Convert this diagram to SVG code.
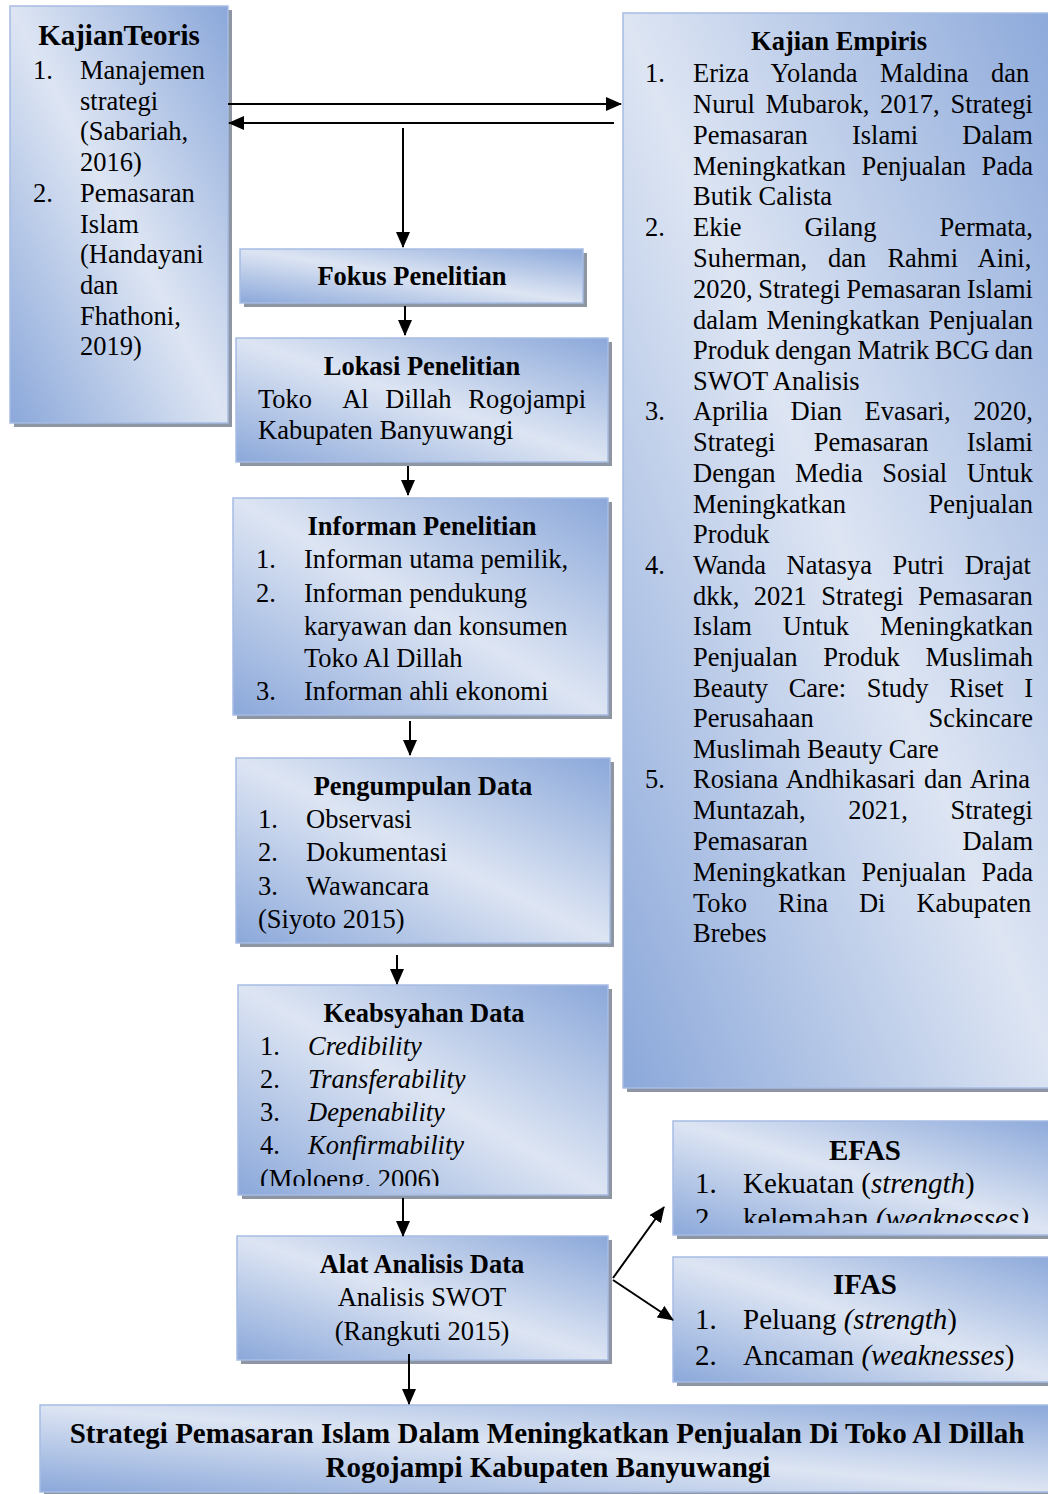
<svg xmlns="http://www.w3.org/2000/svg" width="1048" height="1494" viewBox="0 0 1048 1494">
<defs>
<linearGradient id="g" x1="1" y1="0" x2="0" y2="1">
<stop offset="0" stop-color="#8ba8da"/>
<stop offset="0.5" stop-color="#dde5f3"/>
<stop offset="1" stop-color="#8ba8da"/>
</linearGradient>
<marker id="ah" markerWidth="16" markerHeight="14" refX="15" refY="7" orient="auto" markerUnits="userSpaceOnUse">
<path d="M0,0 L16,7 L0,14 z" fill="#000"/>
</marker>
<clipPath id="cK"><rect x="238" y="985" width="370" height="201"/></clipPath>
<clipPath id="cE"><rect x="673" y="1121" width="390" height="102"/></clipPath>
</defs>
<style>
.box{fill:url(#g);stroke:#a7bce4;stroke-width:1.5}
.sh{fill:#8e96a4}
text{font-family:"Liberation Serif","Times New Roman",serif;font-size:26.5px;fill:#000}
.b{font-weight:bold}
.c{text-anchor:middle}
.e{text-anchor:end}
.i{font-style:italic}
.big{font-size:29px}
.con{stroke:#000;stroke-width:2;fill:none;marker-end:url(#ah)}
</style>
<rect width="1048" height="1494" fill="#fff"/>

<g id="kajian-teoris">
<rect class="sh" x="14" y="10" width="218" height="417"/>
<rect class="box" x="10" y="6" width="218" height="417"/>
<text class="b c big" x="119" y="45">KajianTeoris</text>
<text x="33" y="79">1.</text>
<text x="80" y="79">Manajemen</text>
<text x="80" y="110">strategi</text>
<text x="80" y="140">(Sabariah,</text>
<text x="80" y="171">2016)</text>
<text x="33" y="202">2.</text>
<text x="80" y="202">Pemasaran</text>
<text x="80" y="233">Islam</text>
<text x="80" y="263">(Handayani</text>
<text x="80" y="294">dan</text>
<text x="80" y="325">Fhathoni,</text>
<text x="80" y="355">2019)</text>
</g>

<g id="kajian-empiris">
<rect class="sh" x="627" y="17" width="440" height="1075"/>
<rect class="box" x="623" y="13" width="440" height="1075"/>
<text class="b c" x="839" y="50">Kajian Empiris</text>
<text x="645" y="82">1.</text>
<text x="693" y="82" style="word-spacing:15.9px">Eriza Yolanda Maldina dan</text>
<text x="693" y="113" style="word-spacing:4.1px">Nurul Mubarok, 2017, Strategi</text>
<text x="693" y="144" style="word-spacing:37.5px">Pemasaran Islami Dalam</text>
<text x="693" y="175" style="word-spacing:8.8px">Meningkatkan Penjualan Pada</text>
<text x="693" y="205">Butik Calista</text>
<text x="645" y="236">2.</text>
<text x="693" y="236" style="word-spacing:56.3px">Ekie Gilang Permata,</text>
<text x="693" y="267" style="word-spacing:14.4px">Suherman, dan Rahmi Aini,</text>
<text x="693" y="298" style="word-spacing:-1px">2020, Strategi Pemasaran Islami</text>
<text x="693" y="329" style="word-spacing:2.2px">dalam Meningkatkan Penjualan</text>
<text x="693" y="359" style="word-spacing:-1.1px">Produk dengan Matrik BCG dan</text>
<text x="693" y="390">SWOT Analisis</text>
<text x="645" y="420">3.</text>
<text x="693" y="420" style="word-spacing:15.9px">Aprilia Dian Evasari, 2020,</text>
<text x="693" y="451" style="word-spacing:31.6px">Strategi Pemasaran Islami</text>
<text x="693" y="482" style="word-spacing:13px">Dengan Media Sosial Untuk</text>
<text x="693" y="513" style="word-spacing:75.8px">Meningkatkan Penjualan</text>
<text x="693" y="543">Produk</text>
<text x="645" y="574">4.</text>
<text x="693" y="574" style="word-spacing:14px">Wanda Natasya Putri Drajat</text>
<text x="693" y="605" style="word-spacing:7.8px">dkk, 2021 Strategi Pemasaran</text>
<text x="693" y="635" style="word-spacing:24.3px">Islam Untuk Meningkatkan</text>
<text x="693" y="666" style="word-spacing:19.1px">Penjualan Produk Muslimah</text>
<text x="693" y="697" style="word-spacing:14px">Beauty Care: Study Riset I</text>
<text x="693" y="727" style="word-spacing:108.2px">Perusahaan Sckincare</text>
<text x="693" y="758">Muslimah Beauty Care</text>
<text x="645" y="788">5.</text>
<text x="693" y="788" style="word-spacing:2.2px">Rosiana Andhikasari dan Arina</text>
<text x="693" y="819" style="word-spacing:36px">Muntazah, 2021, Strategi</text>
<text x="693" y="850" style="word-spacing:148px">Pemasaran Dalam</text>
<text x="693" y="881" style="word-spacing:8.8px">Meningkatkan Penjualan Pada</text>
<text x="693" y="912" style="word-spacing:24.3px">Toko Rina Di Kabupaten</text>
<text x="693" y="942">Brebes</text>
</g>

<g id="fokus-penelitian">
<rect class="sh" x="244" y="253" width="343" height="54"/>
<rect class="box" x="240" y="249" width="343" height="54"/>
<text class="b c" x="412" y="285">Fokus Penelitian</text>
</g>

<g id="lokasi-penelitian">
<rect class="sh" x="240" y="342" width="372" height="124"/>
<rect class="box" x="236" y="338" width="372" height="124"/>
<text class="b c" x="422" y="375">Lokasi Penelitian</text>
<text x="258" y="408">Toko</text>
<text class="e" x="586" y="408" style="word-spacing:10px">Al Dillah Rogojampi</text>
<text x="258" y="439">Kabupaten Banyuwangi</text>
</g>

<g id="informan-penelitian">
<rect class="sh" x="237" y="502" width="375" height="217"/>
<rect class="box" x="233" y="498" width="375" height="217"/>
<text class="b c" x="422" y="535">Informan Penelitian</text>
<text x="256" y="568">1.</text>
<text x="304" y="568">Informan utama pemilik,</text>
<text x="256" y="602">2.</text>
<text x="304" y="602">Informan pendukung</text>
<text x="304" y="635">karyawan dan konsumen</text>
<text x="304" y="667">Toko Al Dillah</text>
<text x="256" y="700">3.</text>
<text x="304" y="700">Informan ahli ekonomi</text>
</g>

<g id="pengumpulan-data">
<rect class="sh" x="240" y="762" width="374" height="185"/>
<rect class="box" x="236" y="758" width="374" height="185"/>
<text class="b c" x="423" y="795">Pengumpulan Data</text>
<text x="258" y="828">1.</text>
<text x="306" y="828">Observasi</text>
<text x="258" y="861">2.</text>
<text x="306" y="861">Dokumentasi</text>
<text x="258" y="895">3.</text>
<text x="306" y="895">Wawancara</text>
<text x="258" y="928">(Siyoto 2015)</text>
</g>

<g id="keabsyahan-data">
<rect class="sh" x="242" y="989" width="370" height="210"/>
<rect class="box" x="238" y="985" width="370" height="210"/>
<g clip-path="url(#cK)">
<text class="b c" x="424" y="1022">Keabsyahan Data</text>
<text x="260" y="1055">1.</text>
<text class="i" x="308" y="1055">Credibility</text>
<text x="260" y="1088">2.</text>
<text class="i" x="308" y="1088">Transferability</text>
<text x="260" y="1121">3.</text>
<text class="i" x="308" y="1121">Depenability</text>
<text x="260" y="1154">4.</text>
<text class="i" x="308" y="1154">Konfirmability</text>
<text x="260" y="1188">(Moloeng. 2006)</text>
</g>
</g>

<g id="alat-analisis-data">
<rect class="sh" x="241" y="1240" width="371" height="124"/>
<rect class="box" x="237" y="1236" width="371" height="124"/>
<text class="b c" x="422" y="1273">Alat Analisis Data</text>
<text class="c" x="422" y="1306">Analisis SWOT</text>
<text class="c" x="422" y="1340">(Rangkuti 2015)</text>
</g>

<g id="efas">
<rect class="sh" x="677" y="1125" width="390" height="114"/>
<rect class="box" x="673" y="1121" width="390" height="114"/>
<g clip-path="url(#cE)">
<text class="b c big" x="865" y="1160">EFAS</text>
<text class="big" x="695" y="1193">1.</text>
<text class="big" x="743" y="1193">Kekuatan (<tspan class="i">strength</tspan>)</text>
<text class="big" x="695" y="1228">2.</text>
<text class="big" x="743" y="1228">kelemahan <tspan class="i">(weaknesses)</tspan></text>
</g>
</g>

<g id="ifas">
<rect class="sh" x="677" y="1261" width="390" height="125"/>
<rect class="box" x="673" y="1257" width="390" height="125"/>
<text class="b c big" x="865" y="1294">IFAS</text>
<text class="big" x="695" y="1329">1.</text>
<text class="big" x="743" y="1329">Peluang <tspan class="i">(strength</tspan>)</text>
<text class="big" x="695" y="1365">2.</text>
<text class="big" x="743" y="1365">Ancaman <tspan class="i">(weaknesses</tspan>)</text>
</g>

<g id="strategi-hasil">
<rect class="sh" x="44" y="1409" width="1015" height="87"/>
<rect class="box" x="40" y="1405" width="1015" height="87"/>
<text class="b c big" x="547" y="1443">Strategi Pemasaran Islam Dalam Meningkatkan Penjualan Di Toko Al Dillah</text>
<text class="b c big" x="548" y="1477">Rogojampi Kabupaten Banyuwangi</text>
</g>

<g id="connectors">
<path class="con" d="M228,104 H621"/>
<path class="con" d="M614,123 H229"/>
<path class="con" d="M403,128 V247"/>
<path class="con" d="M405,306 V335"/>
<path class="con" d="M408,466 V495"/>
<path class="con" d="M410,721 V755"/>
<path class="con" d="M397,955 V984"/>
<path class="con" d="M403,1198 V1236"/>
<path class="con" d="M613,1278 L664,1207"/>
<path class="con" d="M613,1280 L673,1320"/>
<path class="con" d="M409,1354 V1404"/>
</g>
</svg>
